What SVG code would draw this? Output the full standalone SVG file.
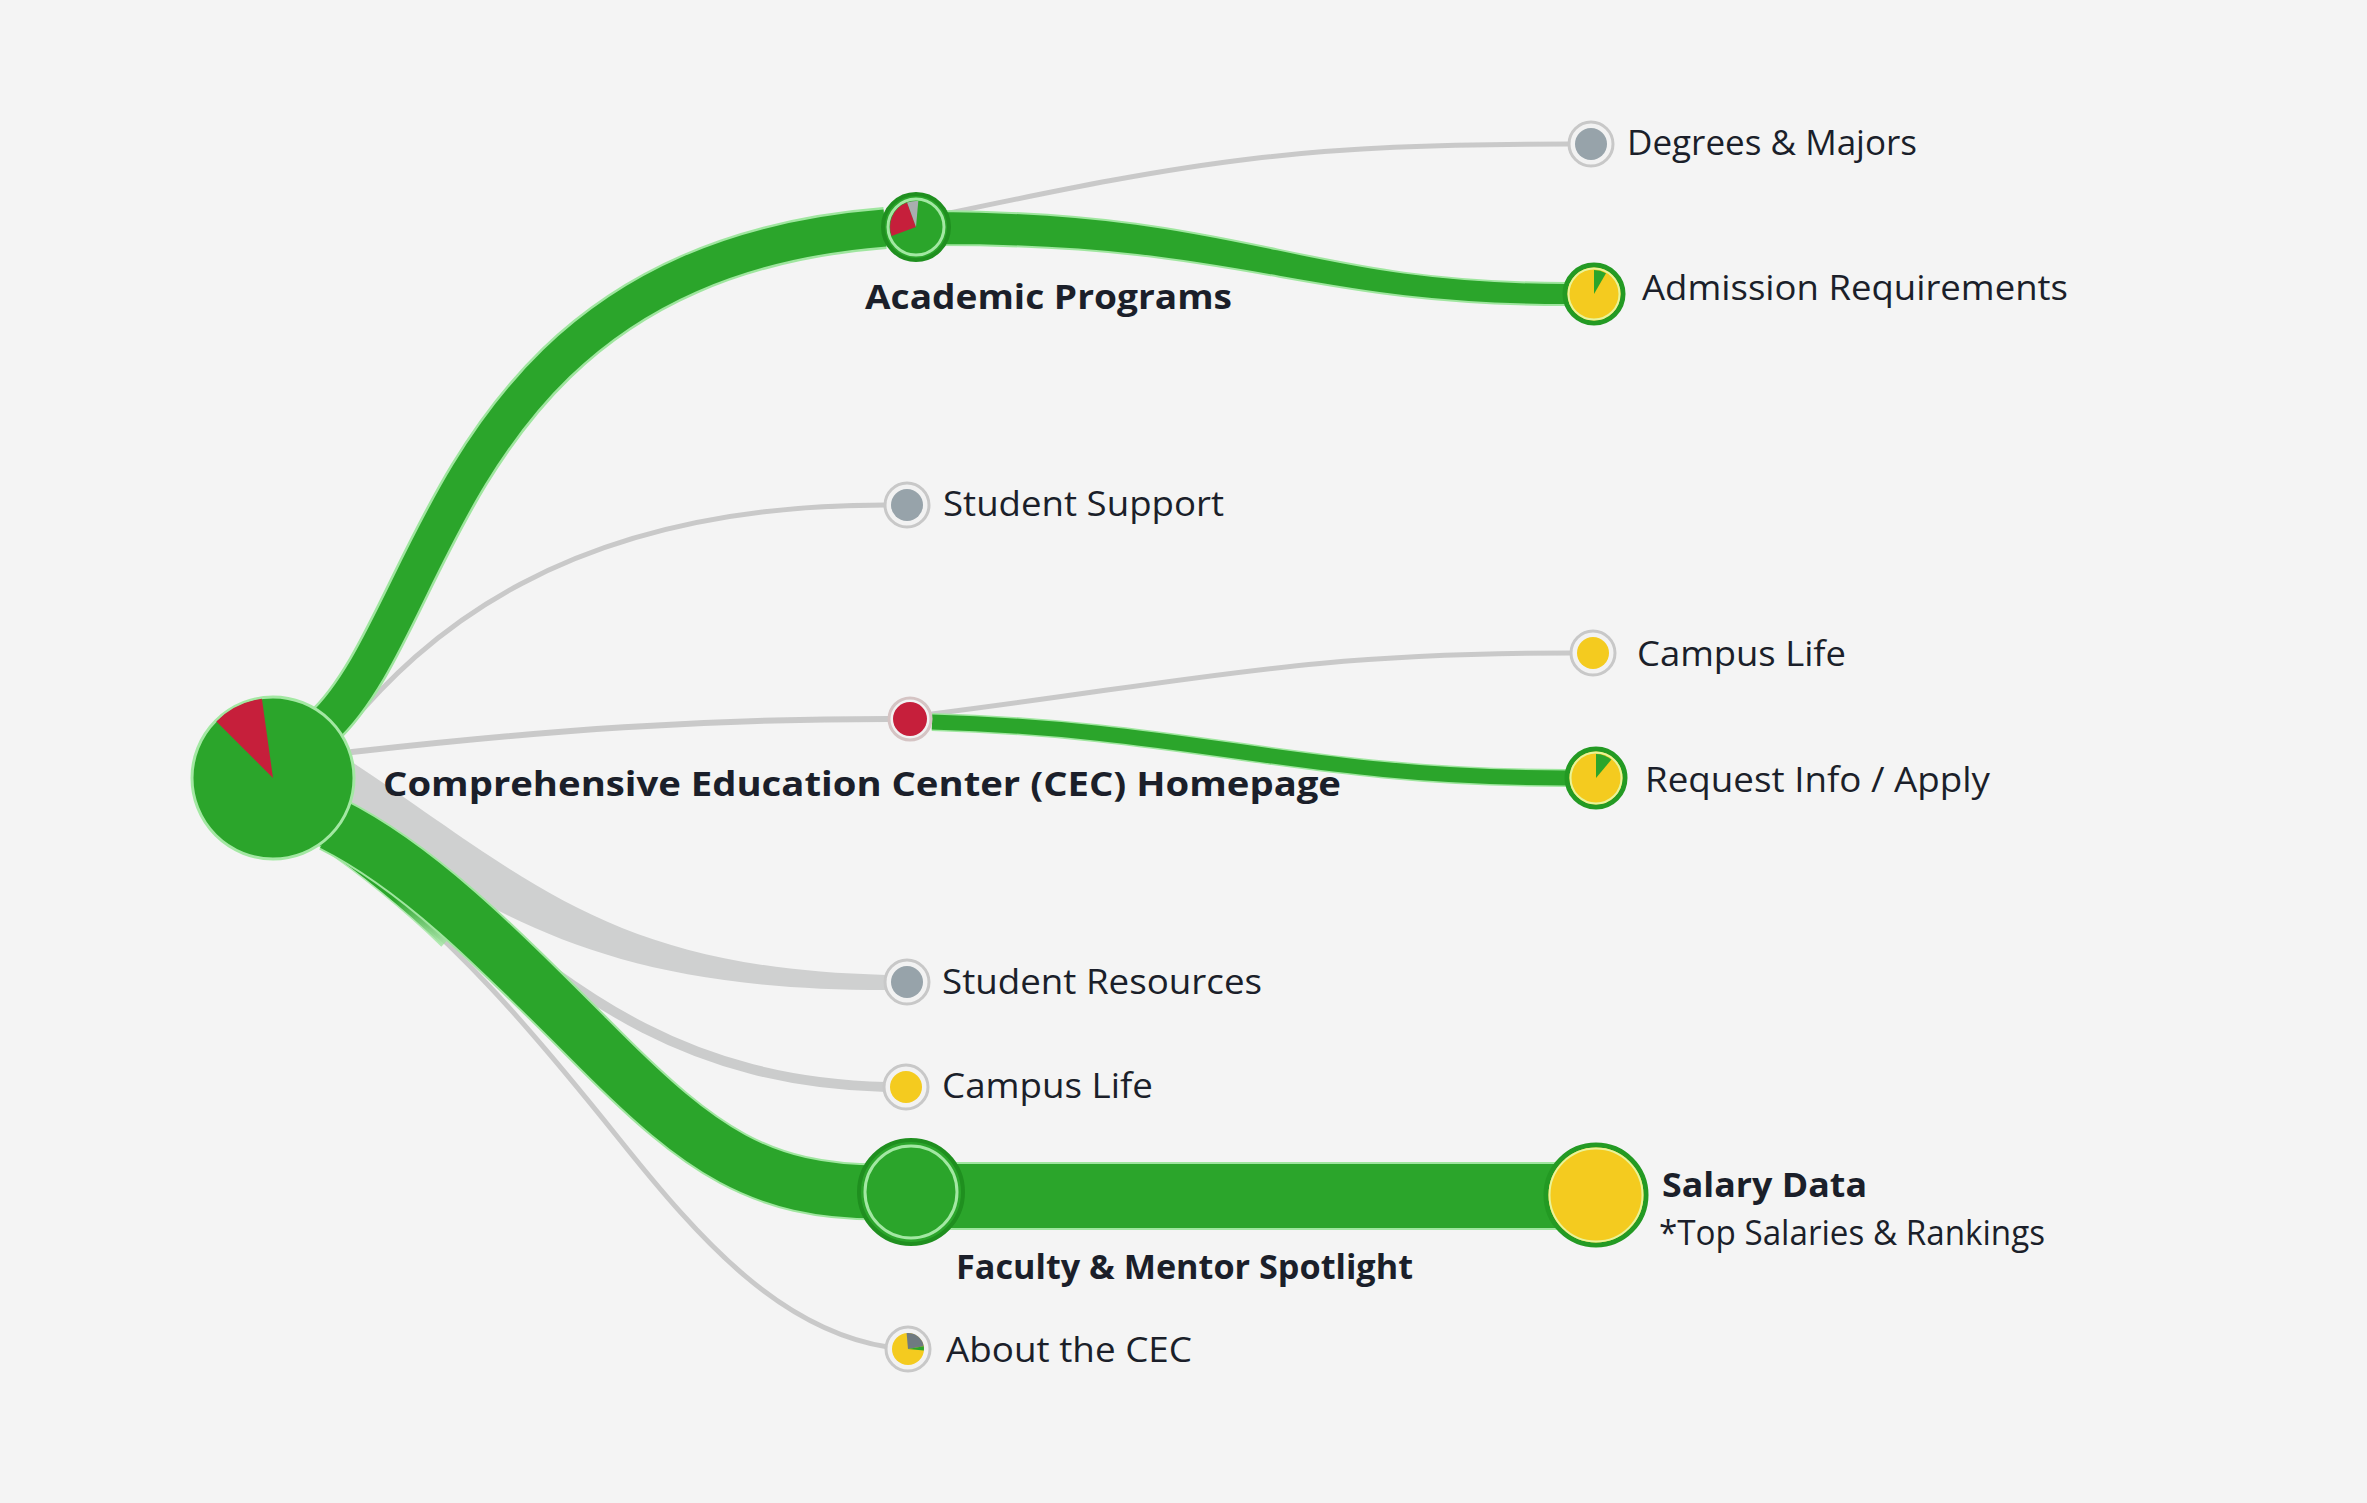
<svg xmlns="http://www.w3.org/2000/svg" width="2367" height="1503" viewBox="0 0 2367 1503">
<defs>
<style>
.lbl{font-family:"Open Sans","Liberation Sans",sans-serif;font-size:34px;font-weight:500;fill:#1b1f2a;}
.b{font-weight:700;}
.gl{fill:none;stroke:#c9c9c9;stroke-linecap:round;}
.gr{fill:none;stroke:#2ba52b;}
.gro{fill:none;stroke:#9fe69f;}
.ring{fill:#f2f2f2;stroke:#c8c8c8;stroke-width:3;}
.gray{fill:#97a3aa;}
.yel{fill:#f4cb1f;}
.red{fill:#c61f3b;}
.grn{fill:#2ba52b;}
</style>
<linearGradient id="aboutG" gradientUnits="userSpaceOnUse" x1="330" y1="846" x2="446" y2="942">
<stop offset="0" stop-color="#2ba52b" stop-opacity="1"/>
<stop offset="0.55" stop-color="#2ba52b" stop-opacity="1"/>
<stop offset="1" stop-color="#2ba52b" stop-opacity="0"/>
</linearGradient>
</defs>
<rect width="2367" height="1503" fill="#f4f4f4"/>

<g id="connectors">
  <!-- Root -> Student Support -->
  <path class="gl" stroke-width="5" d="M 345 730 C 420 640, 560 505, 885 505"/>
  <!-- Root -> Academic Programs -->
  <path class="gro" stroke-width="42" d="M 322 728 C 440 620, 450 262, 885 228"/>
  <path class="gr" stroke-width="37" d="M 322 728 C 440 620, 450 262, 885 228"/>
  <!-- Academic -> Degrees -->
  <path class="gl" stroke-width="5" d="M 945 214 C 1200 160, 1300 144, 1570 144"/>
  <!-- Academic -> Admission (tapered) -->
  <path fill="#2ba52b" stroke="#9fe69f" stroke-width="2" d="M 940 211 C 1250 213, 1300 283, 1566 283 L 1566 305 C 1300 305, 1250 245, 940 245 Z"/>
  <!-- Root -> red node -->
  <path class="gl" stroke-width="6" d="M 352 752 C 550 730, 700 719, 888 719"/>
  <!-- red -> Campus Life -->
  <path class="gl" stroke-width="5" d="M 932 714 C 1200 680, 1300 653, 1572 653"/>
  <!-- red -> Request Info -->
  <path class="gro" stroke-width="18" d="M 932 722 C 1200 730, 1300 778, 1566 778"/>
  <path class="gr" stroke-width="15" d="M 932 722 C 1200 730, 1300 778, 1566 778"/>
  <!-- Root -> Student Resources (tapered) -->
  <path fill="#cfd0d0" d="M 352 762 C 530 880, 610 968, 886 975 L 886 990 C 600 990, 500 915, 342 820 Z"/>
  <!-- Root -> Campus Life lower -->
  <path fill="none" stroke="#cbcccc" stroke-width="10" d="M 350 815 C 520 930, 620 1080, 886 1087"/>
  <!-- Root -> About the CEC -->
  <path fill="none" stroke="#c9c9c9" stroke-width="5" d="M 330 846 C 450 930, 540 1040, 620 1140 C 700 1240, 780 1330, 888 1347"/>
  <path fill="none" stroke="#9fe69f" stroke-width="13" stroke-opacity="0.8" d="M 318 838 C 372 875.4, 410.3 907.8, 445.8 942"/>
  <path fill="none" stroke="url(#aboutG)" stroke-width="10" d="M 318 838 C 372 875.4, 410.3 907.8, 445.8 942"/>
  <!-- Root -> Faculty -->
  <path class="gro" stroke-width="57" d="M 332 824 C 420 868, 500 950, 600 1050 C 700 1150, 760 1192, 880 1192"/>
  <path class="gr" stroke-width="53" d="M 332 824 C 420 868, 500 950, 600 1050 C 700 1150, 760 1192, 880 1192"/>
  <!-- Faculty -> Salary -->
  <rect x="900" y="1162" width="696" height="68" fill="#9fe69f"/>
  <rect x="900" y="1164" width="696" height="64" fill="#2ba52b"/>
</g>

<g id="node-root">
  <circle cx="273" cy="778" r="81" fill="#2ba52b" stroke="#a3e8a3" stroke-width="3"/>
  <path class="red" d="M 273 778 L 216.4 721.4 A 80 80 0 0 1 261.9 698.8 Z"/>
</g>

<g id="node-academic">
  <circle cx="916" cy="227" r="33" fill="#2ba52b" stroke="#1f8f1f" stroke-width="4"/>
  <circle cx="916" cy="227" r="28" fill="none" stroke="#a3e8a3" stroke-width="3"/>
  <path class="red" d="M 916 227 L 891.6 235.9 A 26 26 0 0 1 907.1 202.6 Z"/>
  <path fill="#a9aeb0" d="M 916 227 L 907.1 202.6 A 26 26 0 0 1 918.3 201.1 Z"/>
</g>

<g id="node-degrees">
  <circle class="ring" cx="1591" cy="144" r="22"/>
  <circle class="gray" cx="1591" cy="144" r="16"/>
</g>

<g id="node-admission">
  <circle cx="1594" cy="294" r="29" fill="#f4cb1f" stroke="#239a23" stroke-width="5"/>
  <circle cx="1594" cy="294" r="25.5" fill="none" stroke="#e8f49a" stroke-width="2"/>
  <path class="grn" d="M 1594 294 L 1594 270 A 24 24 0 0 1 1606 273.2 Z"/>
</g>

<g id="node-support">
  <circle class="ring" cx="907" cy="505" r="22"/>
  <circle class="gray" cx="907" cy="505" r="16"/>
</g>

<g id="node-red">
  <circle cx="910" cy="719" r="21" fill="#f2f2f2" stroke="#d5c4c4" stroke-width="3"/>
  <circle class="red" cx="910" cy="719" r="17"/>
</g>

<g id="node-campus1">
  <circle class="ring" cx="1593" cy="653" r="22"/>
  <circle class="yel" cx="1593" cy="653" r="16"/>
</g>

<g id="node-request">
  <circle cx="1596" cy="778" r="29" fill="#f4cb1f" stroke="#239a23" stroke-width="5"/>
  <circle cx="1596" cy="778" r="25.5" fill="none" stroke="#e8f49a" stroke-width="2"/>
  <path class="grn" d="M 1596 778 L 1596 754 A 24 24 0 0 1 1611.4 759.6 Z"/>
</g>

<g id="node-resources">
  <circle class="ring" cx="907" cy="982" r="22"/>
  <circle class="gray" cx="907" cy="982" r="16"/>
</g>

<g id="node-campus2">
  <circle class="ring" cx="906" cy="1087" r="22"/>
  <circle class="yel" cx="906" cy="1087" r="16"/>
</g>

<g id="node-faculty">
  <circle cx="911" cy="1192" r="52" fill="#2ba52b" stroke="#1f8f1f" stroke-width="4"/>
  <circle cx="911" cy="1192" r="46" fill="none" stroke="#a3e8a3" stroke-width="3"/>
</g>

<g id="node-salary">
  <circle cx="1596" cy="1195" r="50" fill="#f4cb1f" stroke="#239a23" stroke-width="5"/>
  <circle cx="1596" cy="1195" r="46.5" fill="none" stroke="#e8f49a" stroke-width="2"/>
</g>

<g id="node-about">
  <circle class="ring" cx="908" cy="1349" r="22"/>
  <circle class="yel" cx="908" cy="1349" r="16"/>
  <path fill="#6f7a80" d="M 908 1349 L 906.6 1333.1 A 16 16 0 0 1 923.8 1346.2 Z"/>
  <path class="grn" d="M 908 1349 L 923.8 1346.2 A 16 16 0 0 1 923.9 1350.4 Z"/>
</g>

<g id="labels">
  <text class="lbl" x="1627" y="155" textLength="290" lengthAdjust="spacingAndGlyphs">Degrees &amp; Majors</text>
  <text class="lbl" x="1642" y="300" textLength="426" lengthAdjust="spacingAndGlyphs">Admission Requirements</text>
  <text class="lbl b" x="865" y="309" textLength="367" lengthAdjust="spacingAndGlyphs">Academic Programs</text>
  <text class="lbl" x="943" y="516" textLength="281" lengthAdjust="spacingAndGlyphs">Student Support</text>
  <text class="lbl" x="1637" y="666" textLength="209" lengthAdjust="spacingAndGlyphs">Campus Life</text>
  <text class="lbl" x="1645" y="792" textLength="345" lengthAdjust="spacingAndGlyphs">Request Info / Apply</text>
  <text class="lbl b" x="383" y="796" font-size="35" textLength="958" lengthAdjust="spacingAndGlyphs">Comprehensive Education Center (CEC) Homepage</text>
  <text class="lbl" x="942" y="994" textLength="320" lengthAdjust="spacingAndGlyphs">Student Resources</text>
  <text class="lbl" x="942" y="1098" textLength="211" lengthAdjust="spacingAndGlyphs">Campus Life</text>
  <text class="lbl b" x="956" y="1279" textLength="457" lengthAdjust="spacingAndGlyphs">Faculty &amp; Mentor Spotlight</text>
  <text class="lbl b" x="1662" y="1197" textLength="205" lengthAdjust="spacingAndGlyphs">Salary Data</text>
  <text class="lbl" x="1659" y="1245" font-size="32" textLength="386" lengthAdjust="spacingAndGlyphs">*Top Salaries &amp; Rankings</text>
  <text class="lbl" x="946" y="1362" textLength="246" lengthAdjust="spacingAndGlyphs">About the CEC</text>
</g>
</svg>
